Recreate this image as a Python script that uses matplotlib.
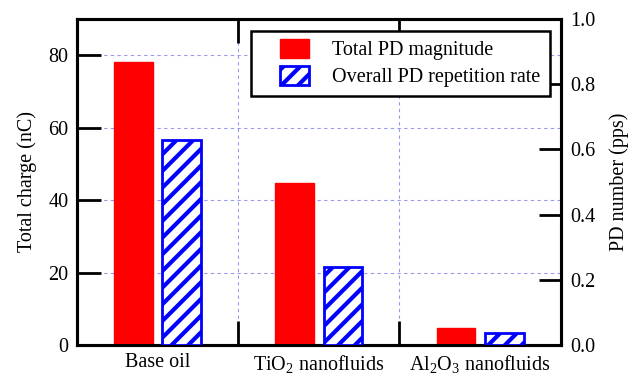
import numpy as np
import matplotlib
matplotlib.use('Agg')
import matplotlib.pyplot as plt
from matplotlib.patches import Patch, Rectangle
from matplotlib.legend_handler import HandlerPatch

plt.rcParams['font.family'] = ['Liberation Serif', 'DejaVu Serif']
plt.rcParams['mathtext.fontset'] = 'custom'
plt.rcParams['mathtext.rm'] = 'Liberation Serif'
plt.rcParams['mathtext.it'] = 'Liberation Serif:italic'
plt.rcParams['hatch.linewidth'] = 3.0
plt.rcParams['hatch.color'] = '#0000ff'

## Data
samples = ['Base oil', 'TiO$_2$ nanofluids', 'Al$_2$O$_3$ nanofluids']
total_charge = [78, 44.6, 4.7]          # nC, left axis
pd_number = [0.628, 0.239, 0.038]       # pps, right axis

fig = plt.figure(figsize=(6.39, 3.79), dpi=100)
ax = fig.add_axes([0.1205, 0.0897, 0.757, 0.8603])
ax2 = ax.twinx()

x = np.arange(len(samples))
width = 0.24
off = 0.15
fs = 14.5

ax.bar(x - off, total_charge, width, color='#ff0000', edgecolor='#ff0000', zorder=3)
ax2.bar(x + off, pd_number, width, color='white', edgecolor='#0000ff',
        hatch='//', linewidth=2, zorder=3)

## Axes limits and ticks
ax.set_xlim(-0.5, 2.5)
ax.set_ylim(0, 90)
ax2.set_ylim(0, 1.0)
ax.set_yticks([0, 20, 40, 60, 80])
ax2.set_yticks([0, 0.2, 0.4, 0.6, 0.8, 1.0])
ax2.set_yticklabels(['0.0', '0.2', '0.4', '0.6', '0.8', '1.0'])

ax.set_xticks([0.5, 1.5])
ax.set_xticklabels([])
ax.set_xticks(x, minor=True)
ax.set_xticklabels(samples, minor=True, fontsize=fs)
ax.tick_params(axis='x', which='minor', length=0, pad=6)
ax.tick_params(axis='x', which='major', direction='in', length=17, width=2,
               top=True)
ax.tick_params(axis='y', direction='in', length=17, width=2, labelsize=fs, pad=6)
ax2.tick_params(axis='y', direction='in', length=16, width=2, labelsize=fs, pad=7)

for a in (ax, ax2):
    for s in a.spines.values():
        s.set_linewidth(2.2)

## Grid
ax.grid(True, axis='both', which='major', linestyle=(0, (3, 3)),
        color='#9999ee', linewidth=0.8, zorder=0)
ax.set_axisbelow(True)

ax.set_ylabel('Total charge (nC)', fontsize=fs, labelpad=8)
ax2.set_ylabel('PD number (pps)', fontsize=fs, labelpad=10)


## Legend keys sit at the right end of the handle area
def right_box(legend, orig_handle, xdescent, ydescent, width, height, fontsize):
    w, h = 21.0, 13.7
    return Rectangle((-xdescent + width - w, -ydescent + (height - h) / 2), w, h)


handles = [Patch(facecolor='#ff0000', edgecolor='#ff0000'),
           Patch(facecolor='white', edgecolor='#0000ff', hatch='//', linewidth=2)]
leg = ax2.legend(handles, ['Total PD magnitude', 'Overall PD repetition rate'],
                 loc='upper right', bbox_to_anchor=(0.977, 0.963),
                 fontsize=fs, fancybox=False, framealpha=1, edgecolor='black',
                 handlelength=2.45, handleheight=0.9, borderpad=0.45,
                 labelspacing=0.32, handletextpad=1.15, borderaxespad=0,
                 handler_map={Patch: HandlerPatch(patch_func=right_box)})
leg.get_frame().set_linewidth(1.8)

fig.savefig('out.png', dpi=100)
